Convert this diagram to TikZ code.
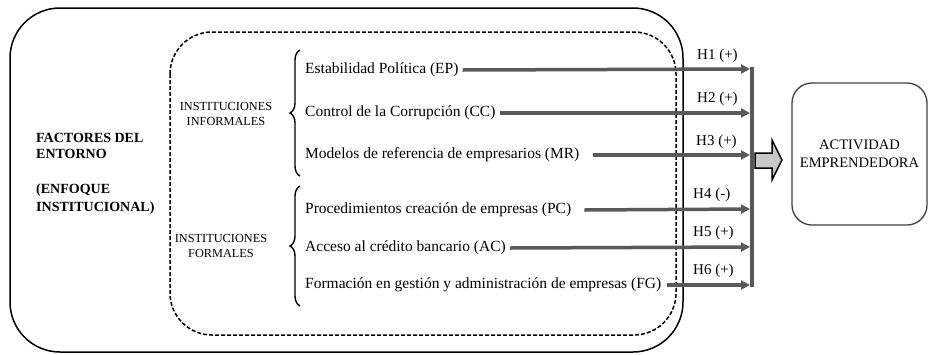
\documentclass[tikz,border=0pt]{standalone}
\usepackage{fontspec}
\setmainfont{Liberation Serif}
\usetikzlibrary{arrows.meta,decorations.pathreplacing}
\definecolor{arrgray}{HTML}{595959}
\tikzset{
  item/.style={anchor=west,inner sep=2pt,font=\fontsize{15.5}{17}\selectfont},
  grp/.style={align=center,inner sep=0pt,font=\fontsize{12.3}{15}\selectfont},
  hyp/.style={anchor=south west,inner sep=0pt,font=\fontsize{15}{17}\selectfont},
  hyparrow/.style={draw=arrgray,line width=3.5pt,-{Triangle[length=9pt,width=9pt]}},
  bigbrace/.style={decorate,decoration={brace,amplitude=10pt},line width=1.4pt},
}
\begin{document}
\begin{tikzpicture}[x=1pt,y=-1pt]
\useasboundingbox (0,0) rectangle (932,354);
% outer box
\draw[line width=1.5pt,rounded corners=50pt] (10,8) rectangle (683,352);
% dashed box
\draw[line width=1.5pt,dash pattern=on 4pt off 2pt,rounded corners=42pt] (170,32) rectangle (676,335);
% main title
\node[anchor=north west,align=left,inner sep=0pt,font=\bfseries\fontsize{14}{16}\selectfont] (fac) at (36,133) {FACTORES DEL\\ENTORNO};
\node[anchor=north west,align=left,inner sep=0pt,font=\bfseries\fontsize{14}{18}\selectfont] (enf) at (36,184) {(ENFOQUE\\INSTITUCIONAL)};
% group labels
\node[grp] (inf) at (226,114) {INSTITUCIONES\\INFORMALES};
\node[grp] (for) at (221,246) {INSTITUCIONES\\FORMALES};
% braces
\draw[bigbrace] (300,176) -- (300,50);
\draw[bigbrace] (300,306) -- (300,186);
% items
\node[item] (ep) at (303,70) {Estabilidad Política (EP)};
\node[item] (cc) at (303,113) {Control de la Corrupción (CC)};
\node[item] (mr) at (303,155) {Modelos de referencia de empresarios (MR)};
\node[item] (pc) at (303,210) {Procedimientos creación de empresas (PC)};
\node[item] (ac) at (303,248) {Acceso al crédito bancario (AC)};
\node[item] (fg) at (303,285) {Formación en gestión y administración de empresas (FG)};
% bar
\coordinate (bartop) at (752,67);
\coordinate (barbot) at (752,287);
\draw[draw=arrgray,line width=3.5pt] (bartop) -- (barbot);
% arrow ends
\coordinate (e1) at (750,69);
\coordinate (e2) at (750,113);
\coordinate (e3) at (750,155);
\coordinate (e4) at (750,209);
\coordinate (e5) at (750,247);
\coordinate (e6) at (750,285);
\draw[hyparrow] (ep.east) ++(2,0) -- (e1);
\draw[hyparrow] (cc.east) ++(2,0) -- (e2);
\draw[hyparrow] ([xshift=11pt]mr.east) -- (e3);
\draw[hyparrow] ([xshift=11pt]pc.east) -- (e4);
\draw[hyparrow] (ac.east) ++(2,0) -- (e5);
\draw[hyparrow] (fg.east) ++(4,0) -- (e6);
% hypothesis labels
\node[hyp] (h1) at (697,63) {H1 (+)};
\node[hyp] (h2) at (697,106) {H2 (+)};
\node[hyp] (h3) at (696,149) {H3 (+)};
\node[hyp] (h4) at (693,202) {H4 (-)};
\node[hyp] (h5) at (693,240) {H5 (+)};
\node[hyp] (h6) at (693,278) {H6 (+)};
% activity box
\node[draw=black!75,line width=1.3pt,rounded corners=20pt,minimum width=135pt,minimum height=142pt,align=center,inner sep=0pt,font=\fontsize{14.5}{18.5}\selectfont] (act) at (859.5,154) {ACTIVIDAD\\EMPRENDEDORA};
% block arrow
\draw[line width=1.5pt,fill=black!22,line join=miter] (755,153) -- (772,153) -- (772,140) -- (782,160) -- (772,180) -- (772,168) -- (755,168) -- cycle;
\end{tikzpicture}
\end{document}
